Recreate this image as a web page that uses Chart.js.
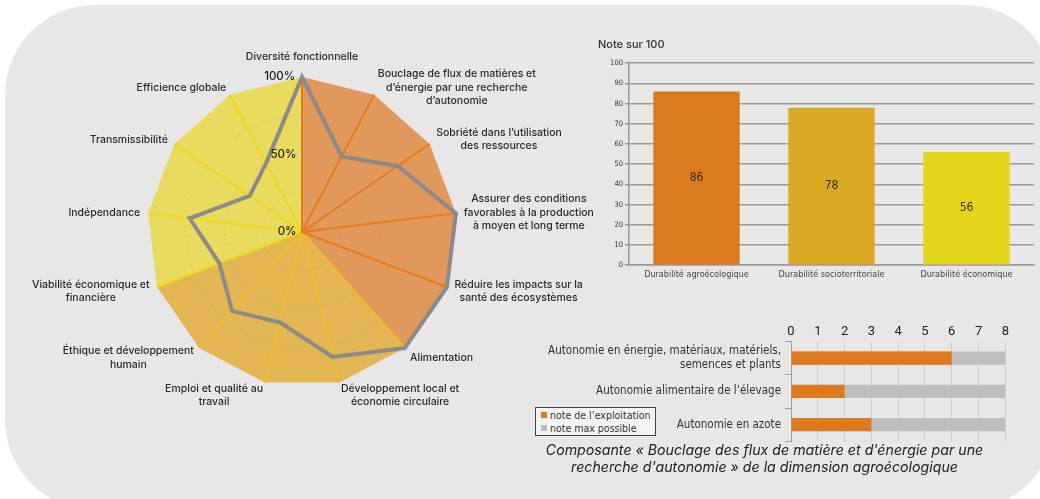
<!DOCTYPE html>
<html>
<head>
<meta charset="utf-8">
<script src="https://cdn.jsdelivr.net/npm/chart.js@4.4.1/dist/chart.umd.min.js"></script>
<style>
    html, body { margin: 0; padding: 0; background: #ffffff; width: 1040px; height: 499px; overflow: hidden; font-family: Inter, sans-serif; }
    #panel { position: absolute; left: 5px; top: 5px; width: 1050px; height: 505px; background: #e7e7e7; border-radius: 90px; }
    .box { position: absolute; }
    #radarBox { left: 0px; top: 30px; width: 610px; height: 420px; }
    #barBox { left: 598px; top: 36px; width: 442px; height: 248px; }
    #autoBox { left: 540px; top: 322px; width: 471px; height: 137px; }
    #legend { position: absolute; left: 535px; top: 407px; width: 121px; height: 29px; border: 1px solid #444; background: #f3f3f3; white-space: nowrap;
        font-family: 'DejaVu Sans Condensed', sans-serif; font-size: 10.5px; color: #333; line-height: 13px; box-sizing: border-box; padding: 1px 0 0 5px; }
    #legend span.sq { display: inline-block; width: 6px; height: 6px; margin-right: 3px; vertical-align: 1px; }
    #caption { position: absolute; left: 506px; top: 441px; width: 517px; text-align: center; font-family: Inter, sans-serif;
        font-style: italic; font-size: 14.2px; line-height: 17px; color: #222; }
</style>
</head>
<body>
<div id="panel"></div>
<div class="box" id="radarBox"><canvas id="radarChart"></canvas></div>
<div class="box" id="barBox"><canvas id="barChart"></canvas></div>
<div class="box" id="autoBox"><canvas id="autoChart"></canvas></div>
<div id="legend"></div>
<div id="caption">Composante « Bouclage des flux de matière et d'énergie par une<br>recherche d'autonomie » de la dimension agroécologique</div>
<script>
// radar : 13 indicateurs, note en %
const radarLabels = [
    'Diversité fonctionnelle',
    ['Bouclage de flux de matières et', 'd’énergie par une recherche', 'd’autonomie'],
    ['Sobriété dans l’utilisation', 'des ressources'],
    ['Assurer des conditions', 'favorables à la production', 'à moyen et long terme'],
    ['Réduire les impacts sur la', 'santé des écosystèmes'],
    'Alimentation',
    ['Développement local et', 'économie circulaire'],
    ['Emploi et qualité au', 'travail'],
    ['Éthique et développement', 'humain'],
    ['Viabilité économique et', 'financière'],
    'Indépendance',
    'Transmissibilité',
    'Efficience globale'
];
const radarScores = [100, 55, 75, 100, 100, 100, 83, 60, 68, 57, 73, 41, 50];
// dimension de chaque axe (0 agroécologique, 1 socioterritoriale, 2 économique)
const axisDimension = [0, 0, 0, 0, 0, 1, 1, 1, 1, 2, 2, 2, 2];

// notes par dimension
const dimensionLabels = ['Durabilité agroécologique', 'Durabilité socioterritoriale', 'Durabilité économique'];
const dimensionScores = [86, 78, 56];

// composante autonomie
const autonomyLabels = [['Autonomie en énergie, matériaux, matériels,', 'semences et plants'], 'Autonomie alimentaire de l’élevage', 'Autonomie en azote'];
const autonomyFarm = [6, 2, 3];
const autonomyMax = [8, 8, 8];
const autonomySeries = ['note de l’exploitation', 'note max possible'];

const dimColors = ['#DB7A1C', '#DCA923', '#E5D51B'];
const sectorFills = ['#E0995A', '#E3B553', '#E9DB5E'];
const axisLineColors = ['#E8791A', '#EEBD28', '#F0D81A'];

const narrow = "'DejaVu Sans Condensed', sans-serif";

// ---------- radar ----------
const n = radarLabels.length;
const radarDatasets = [{
    data: radarScores,
    borderColor: '#8b8b8b',
    borderWidth: 4,
    pointRadius: 0,
    fill: false
}];
radarLabels.forEach((l, i) => {
    radarDatasets.push({
        data: radarLabels.map((_, j) => j === i ? 100 : 0),
        borderColor: axisLineColors[axisDimension[i]],
        borderWidth: 2,
        pointRadius: 0,
        fill: false
    });
});
dimensionLabels.forEach((d, k) => {
    radarDatasets.push({
        data: radarLabels.map((_, j) => (axisDimension[j] === k || axisDimension[(j - 1 + n) % n] === k) ? 100 : 0),
        backgroundColor: sectorFills[k],
        borderWidth: 0,
        pointRadius: 0,
        fill: true
    });
});

// libellés des axes : lignes centrées, bloc centré verticalement sur le point
const radarPointLabels = {
    id: 'radarPointLabels',
    afterDraw(chart) {
        const scale = chart.scales.r;
        const ctx = chart.ctx;
        const lineH = 13.5;
        ctx.save();
        ctx.font = "500 10.5px Inter";
        ctx.fillStyle = '#2b2b2b';
        ctx.textAlign = 'center';
        ctx.textBaseline = 'middle';
        chart.data.labels.forEach((label, i) => {
            const lines = [].concat(label);
            const deg = i * 360 / n;
            const cos = Math.cos(deg * Math.PI / 180);
            const p = scale.getPointPosition(i, scale.drawingArea + 8);
            const w = Math.max(...lines.map(l => ctx.measureText(l).width));
            const h = lines.length * lineH;
            let cx = p.x;
            if (deg > 0 && deg < 180) cx = p.x + w / 2;
            else if (deg > 180) cx = p.x - w / 2;
            let top = p.y - h / 2 + 5 * Math.max(0, -cos);
            if (deg === 0) top = p.y - h - 5;
            lines.forEach((l, k) => ctx.fillText(l, cx, top + lineH * (k + 0.5)));
        });
        ctx.restore();
    }
};

new Chart(document.getElementById('radarChart'), {
    type: 'radar',
    data: { labels: radarLabels, datasets: radarDatasets },
    plugins: [radarPointLabels],
    options: {
        responsive: true,
        maintainAspectRatio: false,
        animation: false,
        layout: { padding: { left: 139, top: 39, right: 145, bottom: 55 } },
        elements: { line: { tension: 0, borderJoinStyle: 'miter' } },
        plugins: { legend: { display: false }, tooltip: { enabled: false } },
        scales: {
            r: {
                min: -0.01,
                max: 100,
                ticks: {
                    stepSize: 25,
                    z: 1,
                    showLabelBackdrop: false,
                    color: '#222',
                    font: { family: 'Inter', size: 11.5, weight: '500' },
                    callback: (v) => {
                        const r = Math.round(v);
                        if (r % 50 !== 0) return '';
                        const s = r + '%';
                        return s + '\u2007'.repeat(s.length + 2);
                    }
                },
                grid: {
                    circular: true,
                    z: 1,
                    lineWidth: 1,
                    color: (ctx) => ctx.tick && Math.round(ctx.tick.value) === 100 ? 'rgba(0,0,0,0)' : 'rgba(150,150,150,0.3)'
                },
                border: { dash: [2, 3] },
                angleLines: { display: false },
                pointLabels: { display: false }
            }
        }
    }
});

// ---------- barres par dimension ----------
const barValueLabels = {
    id: 'barValueLabels',
    afterDatasetsDraw(chart) {
        const ctx = chart.ctx;
        ctx.save();
        ctx.font = "12px " + narrow;
        ctx.fillStyle = '#3a2a10';
        ctx.textAlign = 'center';
        ctx.textBaseline = 'middle';
        chart.getDatasetMeta(0).data.forEach((bar, i) => {
            ctx.fillText(chart.data.datasets[0].data[i], bar.x, (bar.y + bar.base) / 2);
        });
        ctx.restore();
    }
};

new Chart(document.getElementById('barChart'), {
    type: 'bar',
    data: {
        labels: dimensionLabels,
        datasets: [{
            data: dimensionScores,
            backgroundColor: dimColors,
            barPercentage: 0.8,
            categoryPercentage: 0.8
        }]
    },
    plugins: [barValueLabels],
    options: {
        responsive: true,
        maintainAspectRatio: false,
        animation: false,
        layout: { padding: { left: 0, right: 6, bottom: 0 } },
        plugins: {
            legend: { display: false },
            tooltip: { enabled: false },
            title: {
                display: true,
                text: 'Note sur 100',
                align: 'start',
                color: '#333',
                font: { family: 'Inter', size: 11, weight: '500' },
                padding: { top: 2, bottom: 12 }
            }
        },
        scales: {
            x: {
                grid: { display: false, drawTicks: false },
                border: { color: '#9a9a9a', width: 1.5 },
                ticks: { color: '#444', font: { family: narrow, size: 9 }, padding: 4 }
            },
            y: {
                min: 0,
                max: 100,
                afterFit: (scale) => { scale.width = 31; },
                ticks: { stepSize: 10, color: '#333', font: { family: narrow, size: 7.5 }, padding: 2 },
                grid: { color: '#9a9a9a', lineWidth: 1.5, tickLength: 4 },
                border: { color: '#9a9a9a', width: 1.5 }
            }
        }
    }
});

// ---------- autonomie ----------
new Chart(document.getElementById('autoChart'), {
    type: 'bar',
    data: {
        labels: autonomyLabels,
        datasets: [
            { label: autonomySeries[0], data: autonomyFarm, backgroundColor: '#DE7A1E', grouped: false, barPercentage: 0.4, categoryPercentage: 1 },
            { label: autonomySeries[1], data: autonomyMax, backgroundColor: '#BEBEBE', grouped: false, barPercentage: 0.4, categoryPercentage: 1 }
        ]
    },
    options: {
        indexAxis: 'y',
        responsive: true,
        maintainAspectRatio: false,
        animation: false,
        layout: { padding: { right: 4 } },
        plugins: { legend: { display: false }, tooltip: { enabled: false } },
        scales: {
            x: {
                position: 'top',
                min: 0,
                max: 8,
                ticks: { stepSize: 1, color: '#222', font: { family: 'Roboto', size: 13 }, padding: 2 },
                grid: { color: '#cdcdcd', lineWidth: 1, drawTicks: false },
                border: { display: false }
            },
            y: {
                afterFit: (scale) => { scale.width = 251; },
                ticks: { autoSkip: false, color: '#333', font: { family: narrow, size: 11.5 }, padding: 4 },
                grid: { drawOnChartArea: false, color: '#a0a0a0', tickLength: 6 },
                border: { color: '#a0a0a0' }
            }
        }
    }
});

// légende
const legendColors = ['#DE7A1E', '#BEBEBE'];
document.getElementById('legend').innerHTML = autonomySeries
    .map((s, i) => '<div><span class="sq" style="background:' + legendColors[i] + '"></span>' + s + '</div>')
    .join('');
</script>
</body>
</html>
